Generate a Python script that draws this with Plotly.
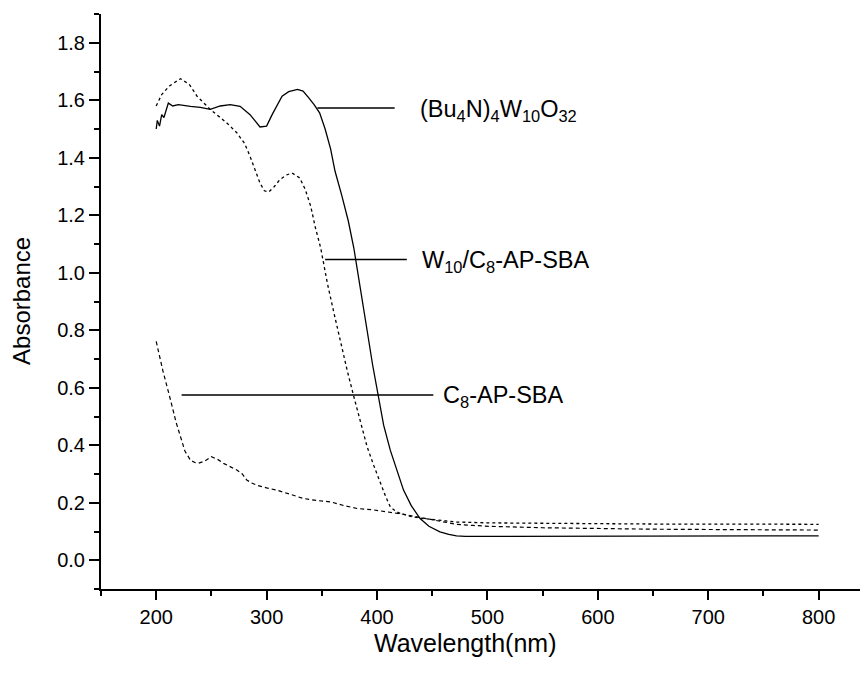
import plotly.graph_objects as go

# (Bu4N)4W10O32  - solid
bu_x = [200, 201, 203, 205, 207, 209, 211, 215, 220, 231, 240, 249, 258, 267, 276, 285, 294, 300, 305, 314, 320, 328, 333, 338, 343, 348, 353, 358, 362, 368, 374, 379, 385, 391, 396, 401, 406, 412, 418, 424, 431, 439, 447, 457, 465, 472, 480, 500, 550, 600, 650, 700, 750, 800]
bu_y = [1.50, 1.53, 1.51, 1.55, 1.54, 1.57, 1.59, 1.58, 1.585, 1.579, 1.575, 1.568, 1.58, 1.585, 1.579, 1.55, 1.507, 1.51, 1.55, 1.614, 1.63, 1.638, 1.632, 1.609, 1.585, 1.556, 1.50, 1.43, 1.353, 1.27, 1.18, 1.086, 0.95, 0.80, 0.68, 0.575, 0.47, 0.383, 0.31, 0.244, 0.19, 0.145, 0.118, 0.099, 0.09, 0.085, 0.083, 0.083, 0.084, 0.084, 0.084, 0.084, 0.084, 0.085]

# W10/C8-AP-SBA - dotted
w10_x = [200, 205, 212, 222, 230, 237, 249, 264, 273, 280, 285, 290, 294, 298, 302, 307, 312, 318, 323, 330, 335, 340, 344, 349, 355, 361, 367, 373, 379, 385, 391, 397, 403, 408, 412, 417, 421, 431, 442, 457, 472, 500, 550, 600, 650, 700, 750, 800]
w10_y = [1.58, 1.62, 1.65, 1.675, 1.655, 1.614, 1.568, 1.521, 1.487, 1.45, 1.405, 1.35, 1.312, 1.285, 1.281, 1.30, 1.324, 1.34, 1.347, 1.33, 1.29, 1.231, 1.16, 1.086, 0.964, 0.86, 0.755, 0.66, 0.569, 0.48, 0.395, 0.33, 0.267, 0.22, 0.186, 0.17, 0.163, 0.152, 0.145, 0.138, 0.133, 0.13, 0.128, 0.127, 0.126, 0.126, 0.125, 0.125]

# C8-AP-SBA - dashed
c8_x = [200, 206, 213, 218, 222, 226, 231, 235, 238, 244, 250, 256, 261, 267, 273, 278, 282, 287, 291, 300, 309, 321, 333, 345, 358, 370, 382, 397, 412, 424, 436, 448, 460, 472, 487, 502, 550, 600, 650, 700, 750, 800]
c8_y = [0.761, 0.66, 0.557, 0.48, 0.43, 0.38, 0.348, 0.34, 0.337, 0.345, 0.36, 0.35, 0.337, 0.325, 0.314, 0.30, 0.279, 0.268, 0.261, 0.252, 0.244, 0.23, 0.215, 0.208, 0.203, 0.19, 0.18, 0.175, 0.168, 0.16, 0.151, 0.142, 0.133, 0.125, 0.121, 0.118, 0.113, 0.11, 0.108, 0.107, 0.106, 0.105]

x_ticks = [200, 300, 400, 500, 600, 700, 800]
y_ticks = [0.0, 0.2, 0.4, 0.6, 0.8, 1.0, 1.2, 1.4, 1.6, 1.8]

labels = ["(Bu<sub>4</sub>N)<sub>4</sub>W<sub>10</sub>O<sub>32</sub>",
          "W<sub>10</sub>/C<sub>8</sub>-AP-SBA",
          "C<sub>8</sub>-AP-SBA"]
label_line_x0 = [346, 353, 223]
label_line_x1 = [416, 427, 451]
label_line_y = [1.573, 1.046, 0.575]
label_text_x = [437, 439, 458]

FONT = "Liberation Sans, Arial, sans-serif"

fig = go.Figure()
fig.add_trace(go.Scatter(x=w10_x, y=w10_y, mode="lines",
                         line=dict(color="black", width=1.3, dash="dot")))
fig.add_trace(go.Scatter(x=c8_x, y=c8_y, mode="lines",
                         line=dict(color="black", width=1.2, dash="4px,3px")))
fig.add_trace(go.Scatter(x=bu_x, y=bu_y, mode="lines",
                         line=dict(color="black", width=1.3)))

for i in range(3):
    fig.add_shape(type="line", xref="x", yref="y",
                  x0=label_line_x0[i], x1=label_line_x1[i],
                  y0=label_line_y[i], y1=label_line_y[i],
                  line=dict(color="black", width=1.5))
    fig.add_annotation(x=label_text_x[i], y=label_line_y[i], xref="x", yref="y",
                       text=labels[i], showarrow=False, xanchor="left", yanchor="middle",
                       font=dict(family=FONT, size=23.5, color="black"), yshift=-2)

# axis titles
fig.add_annotation(x=0.4746, y=-0.094, xref="paper", yref="paper", text="Wavelength(nm)",
                   showarrow=False, xanchor="center", yanchor="middle",
                   font=dict(family=FONT, size=25, color="black"))
fig.add_annotation(x=-0.103, y=0.501, xref="paper", yref="paper", text="Absorbance",
                   showarrow=False, xanchor="center", yanchor="middle", textangle=-90,
                   font=dict(family=FONT, size=24, color="black"))

# small axis overshoots (Origin style)
fig.add_shape(type="line", xref="paper", yref="paper", x0=0, x1=0, y0=0, y1=-0.008,
              line=dict(color="black", width=2))
fig.add_shape(type="line", xref="paper", yref="paper", x0=0, x1=-0.008, y0=0, y1=0,
              line=dict(color="black", width=2))

# page body has an 8px default margin, so the figure is sized/offset to compensate
fig.update_layout(
    template="none",
    width=860, height=666,
    margin=dict(l=93, r=0, t=6, b=85, autoexpand=False),
    paper_bgcolor="white", plot_bgcolor="white",
    showlegend=False,
    font=dict(family=FONT, size=20, color="black"),
)
fig.update_xaxes(range=[150, 844.7], tickvals=x_ticks, ticktext=[str(v) for v in x_ticks],
                 automargin=False,
                 showgrid=False, zeroline=False, showline=True, linecolor="black", linewidth=2,
                 ticks="outside", ticklen=9, tickwidth=2, tickcolor="black",
                 minor=dict(ticks="outside", ticklen=5, tickwidth=2, tickcolor="black", dtick=50, tick0=150, showgrid=False),
                 tickfont=dict(family=FONT, size=20))
fig.update_yaxes(range=[-0.1, 1.9], tickvals=y_ticks, ticktext=[f"{v:.1f}" for v in y_ticks],
                 automargin=False,
                 showgrid=False, zeroline=False, showline=True, linecolor="black", linewidth=2,
                 ticks="outside", ticklen=10, tickwidth=2, tickcolor="black",
                 minor=dict(ticks="outside", ticklen=5, tickwidth=2, tickcolor="black", dtick=0.1, tick0=-0.1, showgrid=False),
                 tickfont=dict(family=FONT, size=20))

fig.write_html("out.html")
